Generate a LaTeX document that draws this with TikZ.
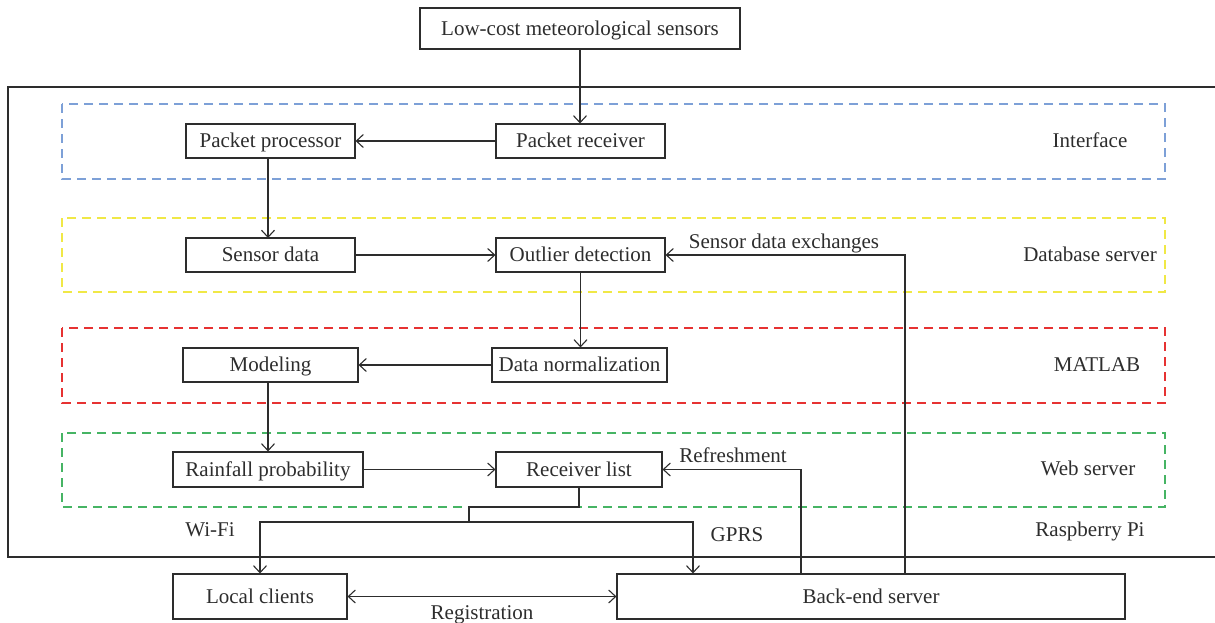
\documentclass[tikz,border=0pt]{standalone}
\usepackage{fontspec}
\setmainfont{Liberation Serif}
\usetikzlibrary{arrows.meta}
\definecolor{ink}{RGB}{45,45,45}
\definecolor{lblue}{RGB}{125,160,215}
\definecolor{lyellow}{RGB}{240,232,70}
\definecolor{lred}{RGB}{230,50,50}
\definecolor{lgreen}{RGB}{70,180,100}
\begin{document}
\begin{tikzpicture}[x=1pt,y=-1pt,
  box/.style={draw=ink, line width=1.1pt, inner sep=0pt, minimum height=34pt, text height=16pt, text depth=3pt, font=\fontsize{21}{24}\selectfont, text=ink},
  lbl/.style={font=\fontsize{21}{24}\selectfont, inner sep=0pt, text height=16pt, text depth=3pt, text=ink},
  layer/.style={dash pattern=on 9pt off 6pt, line width=1.1pt},
  tip/.tip={Straight Barb[length=7pt,width=13pt]},
  arr/.style={-tip, line width=1.1pt, draw=ink},
  link/.style={line width=1.1pt, draw=ink}]
\useasboundingbox (0,0) rectangle (1215,622);
% outer Raspberry Pi frame
\draw[link] (1220,87) -- (8,87) -- (8,557) -- (1220,557);
% layers
\draw[layer, draw=lblue] (62,104) rectangle (1165,179);
\draw[layer, draw=lyellow] (62,218) rectangle (1165,292);
\draw[layer, draw=lred] (62,328) rectangle (1165,403);
\draw[layer, draw=lgreen] (62,433) rectangle (1165,507);
% nodes
\node[box, minimum width=320pt, minimum height=41pt] (sens) at (580,28.5) {Low-cost meteorological sensors};
\node[box, minimum width=169pt] (pp) at (270.5,141) {Packet processor};
\node[box, minimum width=169pt] (pr) at (580.5,141) {Packet receiver};
\node[box, minimum width=169pt] (sd) at (270.5,255) {Sensor data};
\node[box, minimum width=169pt] (od) at (580.5,255) {Outlier detection};
\node[box, minimum width=175pt] (mo) at (270.5,365) {Modeling};
\node[box, minimum width=175pt] (dn) at (579.5,365) {Data normalization};
\node[box, minimum width=190pt, minimum height=35pt] (rp) at (268,469.5) {Rainfall probability};
\node[box, minimum width=166pt, minimum height=35pt] (rl) at (579,469.5) {Receiver list};
\node[box, minimum width=174pt, minimum height=45pt] (lc) at (260,596.5) {Local clients};
\node[box, minimum width=508pt, minimum height=45pt] (be) at (871,596.5) {Back-end server};
% labels
\node[lbl] (l1) at (1090,141) {Interface};
\node[lbl] (l2) at (1090,255) {Database server};
\node[lbl] (l3) at (1097,365) {MATLAB};
\node[lbl] (l4) at (1088,469) {Web server};
\node[lbl] (l5) at (1090,530) {Raspberry Pi};
\node[lbl] (l6) at (210,530) {Wi-Fi};
\node[lbl] (l7) at (737,535) {GPRS};
\node[lbl] (l8) at (733,456) {Refreshment};
\node[lbl] (l9) at (784,242) {Sensor data exchanges};
\node[lbl] (l10) at (482,613) {Registration};
% coordinates
\coordinate (sx) at (905,0);
\coordinate (rx) at (801,0);
\coordinate (gx) at (693,0);
\coordinate (jb) at (469,507);
\coordinate (j) at (469,522);
% connectors
\draw[arr] (sens.south) -- (sens.south |- pr.north);
\draw[arr] (pr.west) -- (pp.east);
\draw[arr] (268,158) -- (268,238);
\draw[arr] (sd.east) -- (od.west);
\draw[arr] (od.south) -- (od.south |- dn.north);
\draw[arr] (dn.west) -- (mo.east);
\draw[arr] (268,382) -- (rp.north);
\draw[arr] (rp.east) -- (rl.west);
\draw[arr] (sx |- be.north) |- (od.east);
\draw[arr] (rx |- be.north) |- (rl.east);
\draw[link] (rl.south) |- (jb) -- (j);
\draw[arr] (j) -| (lc.north);
\draw[arr] (j) -| (gx |- be.north);
\draw[arr, tip-tip] (lc.east) -- (be.west);
\end{tikzpicture}
\end{document}
